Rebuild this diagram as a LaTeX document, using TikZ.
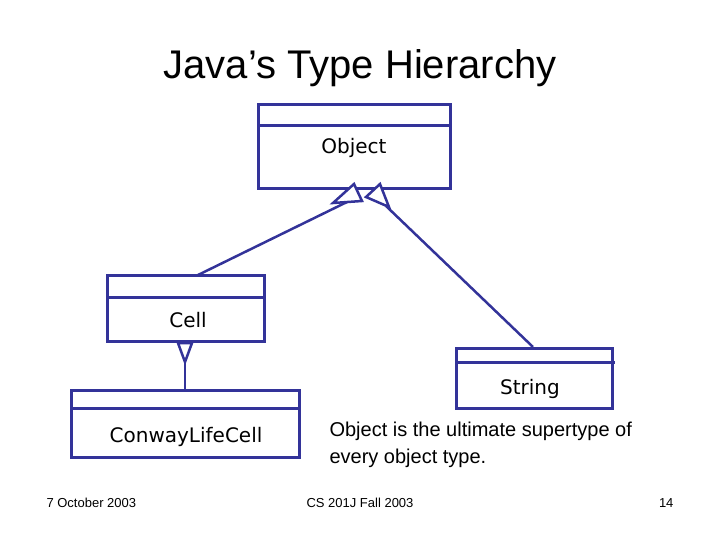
\documentclass[tikz,border=0pt]{standalone}
\usepackage{fontspec}
\setmainfont{Liberation Sans}
\newfontfamily\boxfont{DejaVu Sans}
\definecolor{navy}{RGB}{51,51,153}
\begin{document}
\begin{tikzpicture}[x=1pt,y=-1pt,
  cls/.style={draw=navy,line width=3pt},
  conn/.style={draw=navy,line width=2.5pt},
  tri/.style={draw=navy,line width=2.5pt,fill=white,line join=miter},
  lbl/.style={font=\boxfont\fontsize{20}{24}\selectfont,text=black}]
\useasboundingbox (0,0) rectangle (720,540);
\node[font=\fontsize{40}{46}\selectfont] (title) at (360,68) {Java’s Type Hierarchy};
% Object
\draw[cls] (258,105) rectangle (450,189);
\draw[cls] (258,126) -- (450,126);
\node[lbl] (obj) at (354,148) {Object};
% Cell
\draw[cls] (107,275) rectangle (264,341);
\draw[cls] (107,297) -- (264,297);
\node[lbl] (cell) at (188,320) {Cell};
% String
\draw[cls] (456,348) rectangle (612,408);
\draw[cls] (456,362) -- (615,362);
\node[lbl] (str) at (530,389) {String};
% ConwayLifeCell
\draw[cls] (71,390) rectangle (299,457);
\draw[cls] (71,408) -- (299,408);
\node[lbl] (clc) at (186,437) {ConwayLifeCell};
% connectors
\coordinate (a1) at (347,202);
\coordinate (a2) at (386,206);
\draw[conn] (198,275) -- (a1);
\draw[conn] (533,347) -- (a2);
\draw[tri] (354,184) -- (333,203) -- (362,201) -- cycle;
\draw[tri] (380,184) -- (366,197) -- (389,207) -- cycle;
\draw[conn] (185,362) -- (185,390);
\draw[tri] (178,343) -- (192,343) -- (185,362) -- cycle;
% text
\node[anchor=west,align=left,font=\fontsize{20}{27}\selectfont] (note) at (326,445) {Object is the ultimate supertype of\\every object type.};
\node[anchor=west,font=\fontsize{13}{15}\selectfont] (f1) at (43,503) {7 October 2003};
\node[font=\fontsize{13}{15}\selectfont] (f2) at (360,503) {CS 201J Fall 2003};
\node[anchor=east,font=\fontsize{13}{15}\selectfont] (f3) at (677,503) {14};
\end{tikzpicture}
\end{document}
